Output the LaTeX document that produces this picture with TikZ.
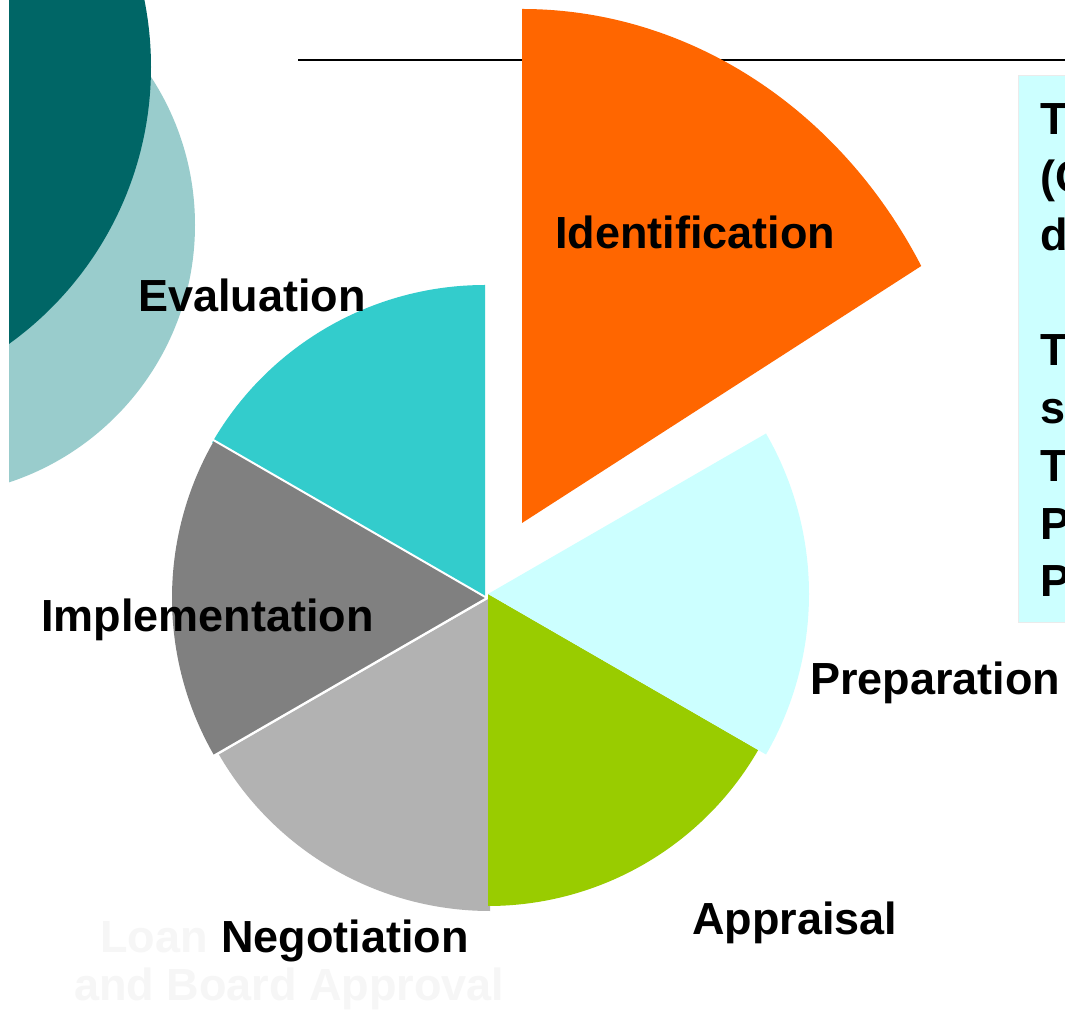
\documentclass[tikz,border=0pt]{standalone}
\usepackage{fontspec}
\setmainfont{Liberation Sans}
\definecolor{idorange}{HTML}{FF6600}
\definecolor{evalcyan}{HTML}{33CCCC}
\definecolor{implgray}{HTML}{808080}
\definecolor{negogray}{HTML}{B2B2B2}
\definecolor{apprgreen}{HTML}{99CC00}
\definecolor{prepcyan}{HTML}{CCFFFF}
\definecolor{boxcyan}{HTML}{CCFFFF}
\definecolor{darkteal}{HTML}{006666}
\definecolor{lightteal}{HTML}{99CCCC}
\definecolor{faint}{HTML}{F6F6F6}
\begin{document}
\begin{tikzpicture}[x=1pt,y=1pt,
  lbl/.style={anchor=base west, inner sep=0pt, font=\fontsize{45}{58}\selectfont\bfseries},
  sep/.style={white, line width=2pt}]
\useasboundingbox (0,0) rectangle (1065,1015);
\fill[white] (0,0) rectangle (1065,1015);
% decorative circles
\begin{scope}
  \clip (9,0) rectangle (1065,1015);
  \fill[lightteal] (-76,790) circle (271pt);
  \fill[darkteal] (-190,948) circle (341pt);
\end{scope}
% title rule
\draw[line width=1.8pt] (298,955) -- (1065,955);
% side text box
\fill[boxcyan, draw=black!8] (1018,393) rectangle (1075,940);
% pie slices
\fill[evalcyan] (485,415) -- ++(90:315pt) arc[start angle=90, end angle=150, radius=315pt] -- cycle;
\fill[implgray] (487,417) -- ++(150:315pt) arc[start angle=150, end angle=210, radius=315pt] -- cycle;
\fill[negogray] (490,417) -- ++(210:313pt) arc[start angle=210, end angle=270, radius=313pt] -- cycle;
\fill[apprgreen] (488,421) -- ++(270:312pt) arc[start angle=270, end angle=330, radius=312pt] -- cycle;
\fill[prepcyan] (488,421) -- ++(-30:321pt) arc[start angle=-30, end angle=30, radius=321pt] -- cycle;
\fill[idorange] (522,492) -- ++(90:514pt) arc[start angle=90, end angle=30, x radius=461pt, y radius=514pt] -- cycle;
\draw[sep] (487,417) -- ++(150:317pt);
\draw[sep] (487,417) -- ++(210:317pt);
% labels
\node[lbl] (ident) at (555,766) {Identification};
\node[lbl] (evalu) at (138,703) {Evaluation};
\node[lbl] (impl) at (41,383) {Implementation};
\node[lbl, text=faint] (loan) at (100,63) {Loan};
\node[lbl, text=faint] (board) at (74,15) {and Board Approval};
\node[lbl] (nego) at (221,63) {Negotiation};
\node[lbl] (appr) at (692,81) {Appraisal};
\node[lbl] (prep) at (810,320) {Preparation};
% side text (cut by the page edge, as in the reference)
\foreach \t/\yy [count=\i] in {T/880, {(C}/822, d/764, T/649, s/591, T/533, P/475, P/418}
  \node[lbl] (side\i) at (1040,\yy) {\t};
\end{tikzpicture}
\end{document}
